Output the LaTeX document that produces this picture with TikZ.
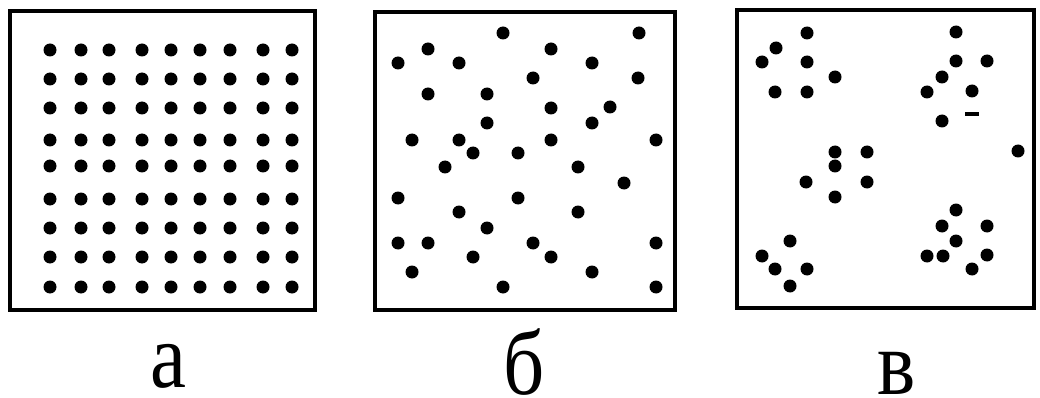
\documentclass[tikz,border=0pt]{standalone}
\usepackage{fontspec}
\setmainfont{Liberation Serif}
\tikzset{
  frame/.style={line width=4pt},
  dot/.style={fill=black},
  caption/.style={anchor=base, inner sep=0pt, text depth=0pt, xscale=0.88,
    font=\fontsize{92}{92}\selectfont}
}
\begin{document}
\begin{tikzpicture}[x=1pt, y=-1pt]
  \useasboundingbox (0,0) rectangle (1040,398);

  % Panel a: regular lattice
  \draw[frame] (10,11) rectangle (315,310);
  \foreach \x in {50,81,109,142,171,200,230,263,292}
    \foreach \y in {50,79,108,140,166,199,228,257,287}
      \fill[dot] (\x,\y) circle[radius=6.5pt];

  % Panel b: random spread
  \draw[frame] (375,12) rectangle (675,310);
  \foreach \x/\y in {503/33, 639/33, 428/49, 551/49, 398/63, 459/63,
      592/63, 533/78, 638/78, 428/94, 487/94, 551/108, 610/107,
      487/123, 592/123, 412/140, 459/140, 551/140, 656/140, 473/153,
      518/153, 445/167, 578/167, 624/183, 398/198, 518/198, 459/212,
      578/212, 487/228, 398/243, 428/243, 533/243, 656/243, 473/257,
      551/257, 412/272, 592/272, 503/287, 656/287}
    \fill[dot] (\x,\y) circle[radius=6.5pt];

  % Panel c: clusters
  \draw[frame] (737,10) rectangle (1034,308);
  \foreach \x/\y in {807/33, 956/32, 776/48, 762/62, 807/62, 956/61,
      987/61, 835/77, 942/77, 775/92, 807/92, 927/92, 972/91, 942/121,
      835/152, 867/152, 1018/151, 835/166, 806/182, 867/182, 835/197,
      956/210, 942/226, 987/226, 790/241, 956/241, 762/256, 927/256,
      943/256, 987/255, 775/269, 807/269, 972/269, 790/286}
    \fill[dot] (\x,\y) circle[radius=6.5pt];
  \draw[line width=4pt] (965,114) -- (979,114); % small dash

  % Captions
  \node[caption] (la) at (168,387) {а};
  \node[caption] (lb) at (524,394) {б};
  \node[caption] (lc) at (897,394) {в};
\end{tikzpicture}
\end{document}
